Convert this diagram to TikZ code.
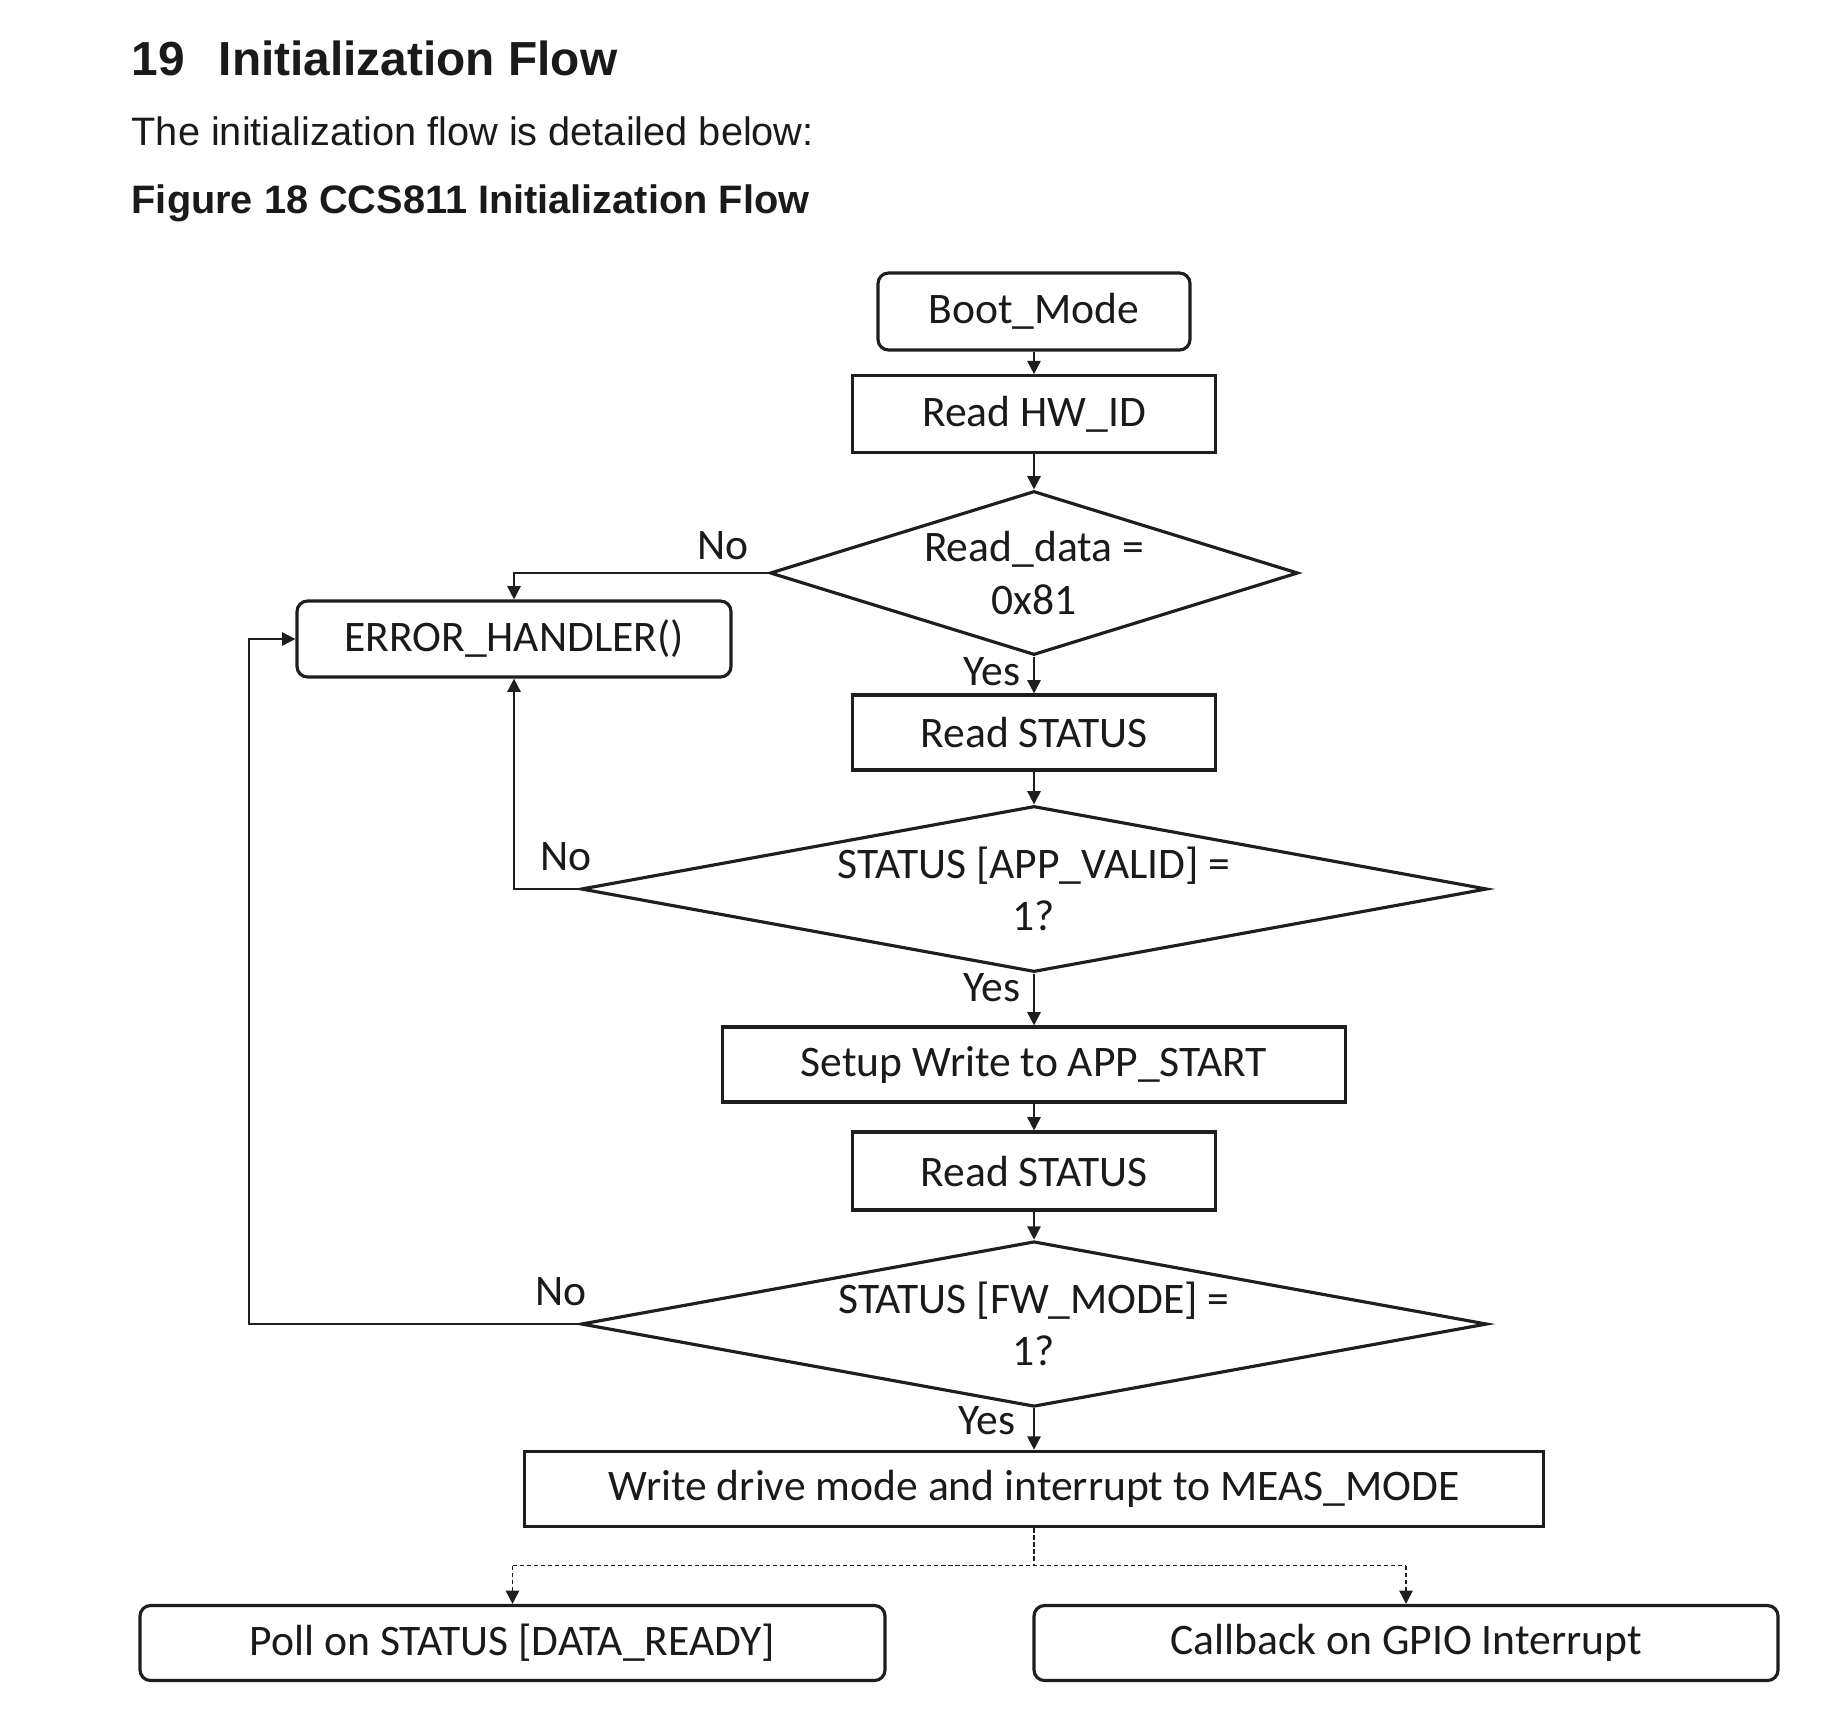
\documentclass[tikz,border=0pt]{standalone}
\usepackage{fontspec}
\usetikzlibrary{shapes.geometric,arrows.meta}
\newfontfamily\headfont{Liberation Sans}
\newfontfamily\boxfont{Carlito}
\definecolor{fcline}{HTML}{1E1E1E}
\definecolor{fctext}{HTML}{1A1A1A}

\begin{document}
\begin{tikzpicture}[
  procbox/.style={draw=fcline, line width=0.9pt, rectangle, inner sep=0pt, align=center, text=fctext, font=\boxfont\fontsize{12.4}{15}\selectfont},
  termbox/.style={procbox, rounded corners=3pt},
  decbox/.style={procbox, diamond},
  flow/.style={draw=fcline, line width=0.5pt, -{Triangle[length=3.8pt,width=3.8pt]}},
  optline/.style={draw=fcline, line width=0.45pt, dash pattern=on 1.2pt off 0.8pt},
  optflow/.style={flow, dash pattern=on 1.2pt off 0.8pt},
  answer/.style={inner sep=0pt, text=fctext, font=\boxfont\fontsize{12.4}{15}\selectfont},
  heading/.style={anchor=base west, inner sep=0pt, text=fctext}
]
  \useasboundingbox (0,0) rectangle (18.4,-17.2);
  % page text above the figure
  \node[heading, font=\headfont\bfseries\fontsize{13.6}{16}\selectfont] (title) at (1.31,-0.75) {19\hspace{0.34cm}Initialization Flow};
  \node[heading, font=\headfont\fontsize{11.3}{14}\selectfont] (intro) at (1.31,-1.455) {The initialization flow is detailed below:};
  \node[heading, font=\headfont\bfseries\fontsize{11.3}{14}\selectfont] (caption) at (1.31,-2.13) {Figure 18 CCS811 Initialization Flow};

  % main column
  \node[termbox, minimum width=3.12cm, minimum height=0.77cm] (boot) at (10.34,-3.115) {Boot\_Mode};
  \node[procbox, minimum width=3.63cm, minimum height=0.765cm] (hwid) at (10.34,-4.14) {Read HW\_ID};
  \node[decbox, shape aspect=3.22, minimum width=5.28cm, minimum height=1.64cm] (chkid) at (10.34,-5.73) {Read\_data =\\0x81};
  \node[termbox, minimum width=4.34cm, minimum height=0.76cm] (err) at (5.14,-6.39) {ERROR\_HANDLER()};
  \node[procbox, minimum width=3.63cm, minimum height=0.75cm] (stat1) at (10.34,-7.325) {Read STATUS};
  \node[decbox, shape aspect=5.46, minimum width=9.06cm, minimum height=1.66cm] (chkapp) at (10.34,-8.89) {STATUS [APP\_VALID] =\\1?};
  \node[procbox, minimum width=6.23cm, minimum height=0.75cm] (start) at (10.34,-10.645) {Setup Write to APP\_START};
  \node[procbox, minimum width=3.63cm, minimum height=0.78cm] (stat2) at (10.34,-11.71) {Read STATUS};
  \node[decbox, shape aspect=5.46, minimum width=9.06cm, minimum height=1.655cm] (chkfw) at (10.34,-13.24) {STATUS [FW\_MODE] =\\1?};
  \node[procbox, minimum width=10.19cm, minimum height=0.755cm] (meas) at (10.34,-14.89) {Write drive mode and interrupt to MEAS\_MODE};
  \node[termbox, minimum width=7.45cm, minimum height=0.75cm] (poll) at (5.125,-16.43) {Poll on STATUS [DATA\_READY]};
  \node[termbox, minimum width=7.44cm, minimum height=0.75cm] (gpio) at (14.06,-16.43) {Callback on GPIO Interrupt};

  % yes / no labels
  \node[answer] (no1) at (7.23,-5.46) {No};
  \node[answer] (no2) at (5.66,-8.57) {No};
  \node[answer] (no3) at (5.61,-12.92) {No};
  \node[answer] (yes1) at (9.92,-6.72) {Yes};
  \node[answer] (yes2) at (9.92,-9.88) {Yes};
  \node[answer] (yes3) at (9.87,-14.21) {Yes};

  % connectors
  \draw[flow] (boot.south) -- (hwid.north);
  \draw[flow] (hwid.south) -- (chkid.north);
  \draw[flow] (chkid.south) -- (stat1.north);
  \draw[flow] (stat1.south) -- (chkapp.north);
  \draw[flow] (chkapp.south) -- (start.north);
  \draw[flow] (start.south) -- (stat2.north);
  \draw[flow] (stat2.south) -- (chkfw.north);
  \draw[flow] (chkfw.south) -- (meas.north);
  \draw[flow] (chkid.west) -| (err.north);
  \draw[flow] (chkapp.west) -| (err.south);
  \coordinate (back) at (2.49,-13.24);
  \draw[flow] (chkfw.west) -- (back) |- (err.west);

  % optional branches
  \coordinate (fork) at (10.34,-15.655);
  \coordinate (forkl) at (poll.north |- fork);
  \coordinate (forkr) at (gpio.north |- fork);
  \draw[optline] (meas.south) -- (fork);
  \draw[optline] (forkl) -- (forkr);
  \draw[optflow] (forkl) -- (poll.north);
  \draw[optflow] (forkr) -- (gpio.north);
\end{tikzpicture}
\end{document}
